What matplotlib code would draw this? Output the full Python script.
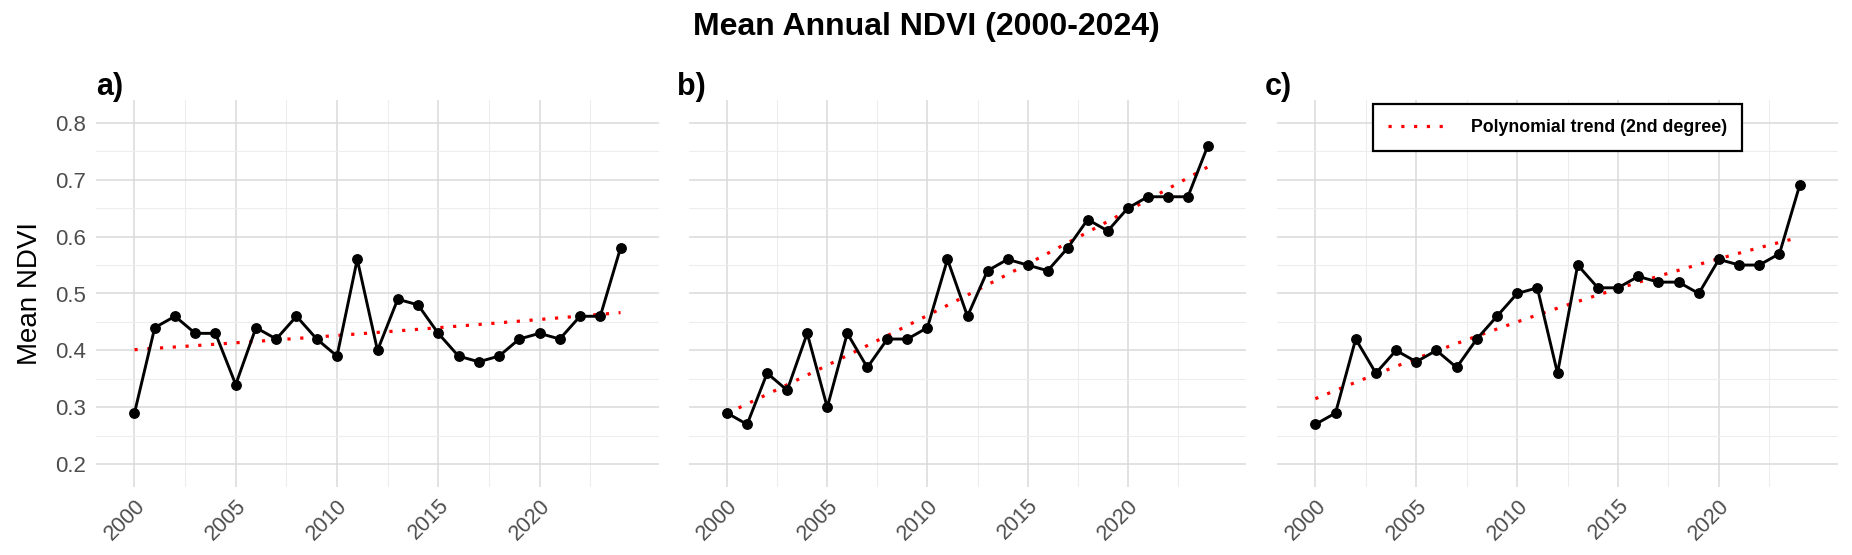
import numpy as np
import matplotlib
matplotlib.use("Agg")
import matplotlib.pyplot as plt
from matplotlib.lines import Line2D

plt.rcParams['font.family'] = ['Liberation Sans', 'DejaVu Sans']

years = list(range(2000, 2025))
ndvi_a = [0.29, 0.44, 0.46, 0.43, 0.43, 0.34, 0.44, 0.42, 0.46, 0.42, 0.39, 0.56, 0.40,
          0.49, 0.48, 0.43, 0.39, 0.38, 0.39, 0.42, 0.43, 0.42, 0.46, 0.46, 0.58]
ndvi_b = [0.29, 0.27, 0.36, 0.33, 0.43, 0.30, 0.43, 0.37, 0.42, 0.42, 0.44, 0.56, 0.46,
          0.54, 0.56, 0.55, 0.54, 0.58, 0.63, 0.61, 0.65, 0.67, 0.67, 0.67, 0.76]
ndvi_c = [0.27, 0.29, 0.42, 0.36, 0.40, 0.38, 0.40, 0.37, 0.42, 0.46, 0.50, 0.51, 0.36,
          0.55, 0.51, 0.51, 0.53, 0.52, 0.52, 0.50, 0.56, 0.55, 0.55, 0.57, 0.69]
panel_labels = ["a)", "b)", "c)"]
x_ticks = [2000, 2005, 2010, 2015, 2020]
y_ticks = [0.2, 0.3, 0.4, 0.5, 0.6, 0.7, 0.8]
title = "Mean Annual NDVI (2000-2024)"
ylabel = "Mean NDVI"
legend_label = "Polynomial trend (2nd degree)"

W, H = 1852, 555
fig = plt.figure(figsize=(W / 100, H / 100), dpi=100)

panels_px = [(96, 563), (689, 557), (1277, 561)]
top_px, bot_px = 100, 487

series = [ndvi_a, ndvi_b, ndvi_c]
x = np.array(years, dtype=float)
major_grid = '#DADADA'
minor_grid = '#EDEDED'

for i, (left, width) in enumerate(panels_px):
    ax = fig.add_axes([left / W, (H - bot_px) / H, width / W, (bot_px - top_px) / H])
    y = np.array(series[i])
    coef = np.polyfit(x, y, 2)
    xf = np.linspace(x.min(), x.max(), 200)
    yf = np.polyval(coef, xf)

    ax.set_xlim(1998.1, 2025.9)
    ax.set_ylim(0.16, 0.84)
    ax.set_xticks(x_ticks)
    ax.set_xticks([2002.5, 2007.5, 2012.5, 2017.5, 2022.5], minor=True)
    ax.set_yticks(y_ticks)
    ax.set_yticks([0.25, 0.35, 0.45, 0.55, 0.65, 0.75], minor=True)
    ax.grid(which='major', color=major_grid, linewidth=1.1)
    ax.grid(which='minor', color=minor_grid, linewidth=0.8)
    ax.set_axisbelow(True)
    for s in ax.spines.values():
        s.set_visible(False)
    ax.tick_params(which='both', length=0)
    ax.tick_params(axis='x', labelsize=15.5, labelcolor='#4D4D4D', pad=6)
    ax.tick_params(axis='y', labelsize=16, labelcolor='#4D4D4D', pad=7)
    for lab in ax.get_xticklabels():
        lab.set_rotation(45)
        lab.set_ha('right')
        lab.set_va('top')
        lab.set_rotation_mode('anchor')
    if i == 0:
        ax.set_yticklabels([f"{v:.1f}" for v in y_ticks])
        ax.set_ylabel(ylabel, fontsize=20, labelpad=9)
    else:
        ax.set_yticklabels([])

    ax.plot(xf, yf, color='red', linestyle=(0, (1, 3)), linewidth=2.3, zorder=3)
    ax.plot(x, y, color='black', linewidth=2.1, marker='o', markersize=6.8, zorder=4)

    fig.text((left if i == 0 else left - 12) / W, (H - 87) / H, panel_labels[i],
             fontsize=22, fontweight='bold', ha='left', va='center')

    if i == 2:
        handle = Line2D([], [], color='red', linestyle=(0, (1, 3)), linewidth=2.3)
        leg = ax.legend([handle], [legend_label], loc='upper center',
                        bbox_to_anchor=(0.5, 0.99), frameon=True, fancybox=False,
                        prop={'weight': 'bold', 'size': 12.8}, handlelength=3.2,
                        borderpad=0.85, handletextpad=1.5, borderaxespad=0)
        leg.get_frame().set_edgecolor('black')
        leg.get_frame().set_linewidth(1.6)
        leg.get_frame().set_alpha(1)

fig.text(0.5, (H - 27) / H, title, fontsize=23, fontweight='bold', ha='center', va='center')

fig.savefig('out.png', dpi=100)
